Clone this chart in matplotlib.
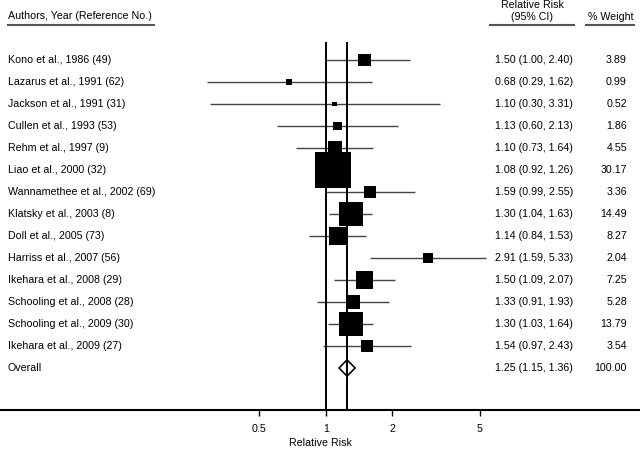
import matplotlib
matplotlib.use("Agg")
import matplotlib.pyplot as plt
import matplotlib.transforms as mtransforms
from matplotlib.patches import Polygon
from matplotlib.ticker import FixedLocator, FixedFormatter, NullLocator
import numpy as np

plt.rcParams['font.family'] = ['Liberation Sans', 'DejaVu Sans']

# Data
studies = ["Kono et al., 1986 (49)", "Lazarus et al., 1991 (62)", "Jackson et al., 1991 (31)",
           "Cullen et al., 1993 (53)", "Rehm et al., 1997 (9)", "Liao et al., 2000 (32)",
           "Wannamethee et al., 2002 (69)", "Klatsky et al., 2003 (8)", "Doll et al., 2005 (73)",
           "Harriss et al., 2007 (56)", "Ikehara et al., 2008 (29)", "Schooling et al., 2008 (28)",
           "Schooling et al., 2009 (30)", "Ikehara et al., 2009 (27)"]
rr = [1.50, 0.68, 1.10, 1.13, 1.10, 1.08, 1.59, 1.30, 1.14, 2.91, 1.50, 1.33, 1.30, 1.54]
lo = [1.00, 0.29, 0.30, 0.60, 0.73, 0.92, 0.99, 1.04, 0.84, 1.59, 1.09, 0.91, 1.03, 0.97]
hi = [2.40, 1.62, 3.31, 2.13, 1.64, 1.26, 2.55, 1.63, 1.53, 5.33, 2.07, 1.93, 1.64, 2.43]
weight = [3.89, 0.99, 0.52, 1.86, 4.55, 30.17, 3.36, 14.49, 8.27, 2.04, 7.25, 5.28, 13.79, 3.54]
overall = (1.25, 1.15, 1.36)
xticks = [0.5, 1, 2, 5]

W, H = 640, 450
fig = plt.figure(figsize=(W / 100, H / 100), dpi=100)
ax = fig.add_axes([0, 40 / H, 1, 410 / H])

ax.set_xscale('log')
ax.set_xlim(0.0334, 26.6)
row0, step = 60, 22  # pixel y of first row, row spacing
ax.set_ylim((410 - row0) / step, -row0 / step)

n = len(studies)
ys = np.arange(n)

# confidence intervals
ax.hlines(ys, lo, hi, color='#444444', lw=1.0, zorder=2)
# weighted squares (area proportional to weight)
side_pt = 6.4 * np.sqrt(weight) * 0.72
ax.scatter(rr, ys, s=side_pt ** 2, marker='s', color='black', linewidths=0, zorder=3)

# overall diamond
oy = n
hh = 0.37
diamond = Polygon([(overall[1], oy), (overall[0], oy - hh), (overall[2], oy), (overall[0], oy + hh)],
                  closed=True, facecolor='white', edgecolor='black', lw=1.2, zorder=4)
ax.add_patch(diamond)

# reference lines at 1 and overall estimate
ytop = (41.7 - row0) / step
ybot = (410 - row0) / step
ax.vlines([1, overall[0]], ytop, ybot, color='black', lw=1.4, zorder=5)

# axis styling
for s in ['left', 'right', 'top']:
    ax.spines[s].set_visible(False)
ax.spines['bottom'].set_linewidth(1.5)
ax.yaxis.set_visible(False)
ax.xaxis.set_major_locator(FixedLocator(xticks))
ax.xaxis.set_major_formatter(FixedFormatter([f"{t:g}" for t in xticks]))
ax.xaxis.set_minor_locator(NullLocator())
ax.tick_params(axis='x', direction='out', length=4, width=1, labelsize=7.7, pad=6)
ax.set_xlabel("Relative Risk", fontsize=7.7, labelpad=3)

# text columns
trans = mtransforms.blended_transform_factory(ax.transAxes, ax.transData)
fs = 7.7
labels = studies + ["Overall"]
ci_txt = [f"{r:.2f} ({l:.2f}, {h:.2f})" for r, l, h in zip(rr, lo, hi)]
ci_txt.append(f"{overall[0]:.2f} ({overall[1]:.2f}, {overall[2]:.2f})")
w_txt = [f"{w:.2f}" for w in weight] + ["100.00"]
for i in range(n + 1):
    ax.text(8 / W, i, labels[i], transform=trans, fontsize=fs, va='center', ha='left')
    ax.text(495 / W, i, ci_txt[i], transform=trans, fontsize=fs, va='center', ha='left')
    ax.text(627 / W, i, w_txt[i], transform=trans, fontsize=fs, va='center', ha='right')

# headers
def fx(px):
    return px / W

def fy(py):
    return 1 - py / H

fig.text(fx(8), fy(16), "Authors, Year (Reference No.)", fontsize=fs, va='center', ha='left')
fig.text(fx(532), fy(5), "Relative Risk", fontsize=fs, va='center', ha='center')
fig.text(fx(532), fy(17), "(95% CI)", fontsize=fs, va='center', ha='center')
fig.text(fx(611), fy(17), "% Weight", fontsize=fs, va='center', ha='center')
for x0, x1 in [(8, 154), (490, 574), (586, 634)]:
    fig.add_artist(plt.Line2D([fx(x0), fx(x1)], [fy(25), fy(25)], color='#555555', lw=1.5))

fig.savefig("out.png", dpi=100)
